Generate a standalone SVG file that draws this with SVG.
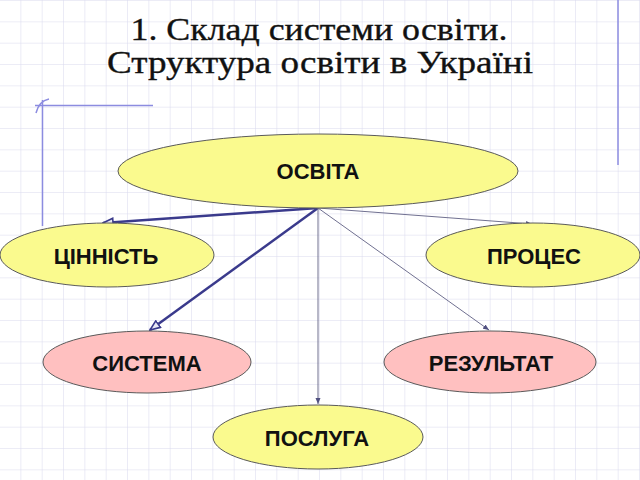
<svg xmlns="http://www.w3.org/2000/svg" width="640" height="480" viewBox="0 0 640 480">
<style>
.title{font-family:"Liberation Serif","DejaVu Serif",serif;font-size:31px;fill:#111;stroke:#111;stroke-width:0.35;text-anchor:middle}
.lbl{font-family:"Liberation Sans",Arial,sans-serif;font-weight:bold;font-size:22px;fill:#111;text-anchor:middle}
.y{fill:#fafa8e;stroke:#5a5a5a;stroke-width:1}
.p{fill:#ffc0c0;stroke:#5a5a5a;stroke-width:1}
.thick{stroke:#3a3a8c;stroke-width:2.5;fill:none}
.thin{stroke:#707090;stroke-width:1;fill:none}
.margin{stroke:#8c8ce0;stroke-width:1.5;fill:none}
</style>
<defs>
<pattern id="grid" x="0" y="1" width="21.333" height="21.333" patternUnits="userSpaceOnUse">
<path d="M21.333,0V21.333M0,21.333H21.333" stroke="#d9d9ee" stroke-width="1" fill="none"/>
</pattern>
<marker id="open" viewBox="0 0 12 10" refX="11" refY="5" markerWidth="12" markerHeight="10" markerUnits="userSpaceOnUse" orient="auto">
<path d="M1,1L11,5L1,9Z" fill="#e8e8f4" stroke="#3a3a8c" stroke-width="1.6"/>
</marker>
<marker id="small" viewBox="0 0 6 6" refX="6" refY="3" markerWidth="6" markerHeight="6" markerUnits="userSpaceOnUse" orient="auto">
<path d="M0,0.5L6,3L0,5.5Z" fill="#505080"/>
</marker>
</defs>
<rect width="640" height="480" fill="#ffffff"/>
<rect width="640" height="480" fill="url(#grid)"/>
<g id="margins">
<path class="margin" d="M618,0V165"/>
<path class="margin" d="M42.5,100V226"/>
<path class="margin" d="M35,105.5H153"/>
<path class="margin" d="M36,113Q39,101 49,99"/>
</g>
<g id="title">
<text class="title" x="319" y="40" textLength="377" lengthAdjust="spacingAndGlyphs">1. Склад системи освіти.</text>
<text class="title" x="320" y="73" textLength="426" lengthAdjust="spacingAndGlyphs">Структура освіти в Україні</text>
</g>
<g id="connectors">
<path class="thick" d="M318,208L103,223" marker-end="url(#open)"/>
<path class="thick" d="M318,208L150,330" marker-end="url(#open)"/>
<path class="thin" d="M318,208L318,404" marker-end="url(#small)"/>
<path class="thin" d="M318,208L489,330" marker-end="url(#small)"/>
<path class="thin" d="M318,208L532,224" marker-end="url(#small)"/>
</g>
<g id="osvita">
<ellipse class="y" cx="318" cy="171" rx="200" ry="37"/>
<text class="lbl" x="318" y="179">ОСВІТА</text>
</g>
<g id="tsinnist">
<ellipse class="y" cx="107" cy="255" rx="107" ry="32"/>
<text class="lbl" x="106" y="264">ЦІННІСТЬ</text>
</g>
<g id="protses">
<ellipse class="y" cx="533" cy="255" rx="107" ry="32"/>
<text class="lbl" x="534" y="264">ПРОЦЕС</text>
</g>
<g id="systema">
<ellipse class="p" cx="147" cy="362" rx="104" ry="31"/>
<text class="lbl" x="147" y="371">СИСТЕМА</text>
</g>
<g id="rezultat">
<ellipse class="p" cx="490" cy="362" rx="106" ry="31"/>
<text class="lbl" x="491" y="371">РЕЗУЛЬТАТ</text>
</g>
<g id="posluha">
<ellipse class="y" cx="318" cy="437" rx="105" ry="32"/>
<text class="lbl" x="317" y="446">ПОСЛУГА</text>
</g>
</svg>
